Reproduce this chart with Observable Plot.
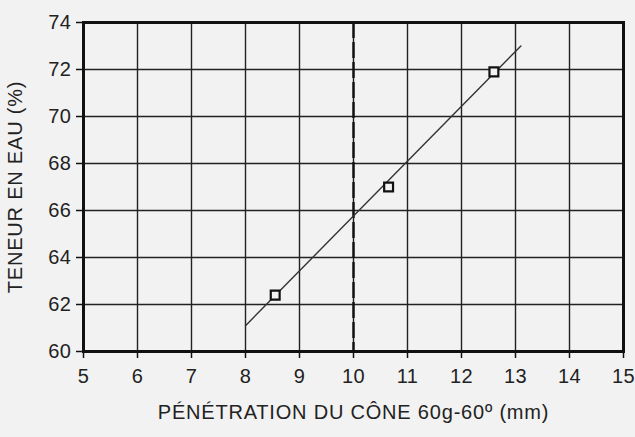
<!DOCTYPE html>
<html><head><meta charset="utf-8">
<script src="https://cdn.jsdelivr.net/npm/d3@7"></script>
<script src="https://cdn.jsdelivr.net/npm/@observablehq/plot@0.6"></script>
<style>
body{margin:0;background:#f2f2f2;}
#c svg{background:#f2f2f2;font-family:"Liberation Sans",Arial,sans-serif;}
</style></head><body><div id="c"></div>
<script>
const penetration = [8.55, 10.65, 12.6];
const teneur = [62.4, 67.0, 71.9];
const fitX = [8.0, 13.1];
const fitY = [61.1, 73.0];
const limitX = [10];
const xTicks = [5,6,7,8,9,10,11,12,13,14,15];
const yTicks = [60,62,64,66,68,70,72,74];
const xLabel = "PÉNÉTRATION DU CÔNE 60g-60º (mm)";
const yLabel = "TENEUR EN EAU (%)";

const pts = penetration.map((x,i)=>({x, y: teneur[i]}));
const fit = fitX.map((x,i)=>({x, y: fitY[i]}));

const chart = Plot.plot({
  width: 635, height: 437,
  marginLeft: 83, marginRight: 12, marginTop: 22, marginBottom: 86,
  style: {background: "#f2f2f2", fontFamily: "Liberation Sans, Arial, sans-serif", color: "#222"},
  x: {domain: [5,15]},
  y: {domain: [60,74]},
  marks: [
    Plot.gridX(xTicks, {stroke: "#222", strokeOpacity: 1, strokeWidth: 1.4}),
    Plot.gridY(yTicks, {stroke: "#222", strokeOpacity: 1, strokeWidth: 1.4}),
    Plot.ruleX(limitX, {stroke: "#111", strokeWidth: 2.4, strokeDasharray: "16,4"}),
    Plot.line(fit, {x: "x", y: "y", stroke: "#333", strokeWidth: 1.4}),
    Plot.dot(pts, {x: "x", y: "y", symbol: "square", r: 5, fill: "#f2f2f2", stroke: "#111", strokeWidth: 2.2}),
    Plot.frame({stroke: "#111", strokeWidth: 3}),
    Plot.axisX({ticks: xTicks, tickSize: 7, tickPadding: 10, fontSize: 20, label: null, stroke: "#111", strokeWidth: 1.5}),
    Plot.axisY({ticks: yTicks, tickSize: 7, tickPadding: 5, fontSize: 20, label: null, stroke: "#111", strokeWidth: 1.5}),
    Plot.axisX({ticks: [], label: xLabel, labelAnchor: "center", labelArrow: "none", labelOffset: 67, fontSize: 20}),
    Plot.axisY({ticks: [], label: yLabel, labelAnchor: "center", labelArrow: "none", labelOffset: 76, fontSize: 20})
  ]
});
document.getElementById("c").appendChild(chart);
d3.select(chart).selectAll("g[aria-label$='axis label'] text").style("letter-spacing", "0.8px");
d3.select(chart).selectAll("g[aria-label$='tick label'] text").style("letter-spacing", "0.5px");
</script></body></html>
